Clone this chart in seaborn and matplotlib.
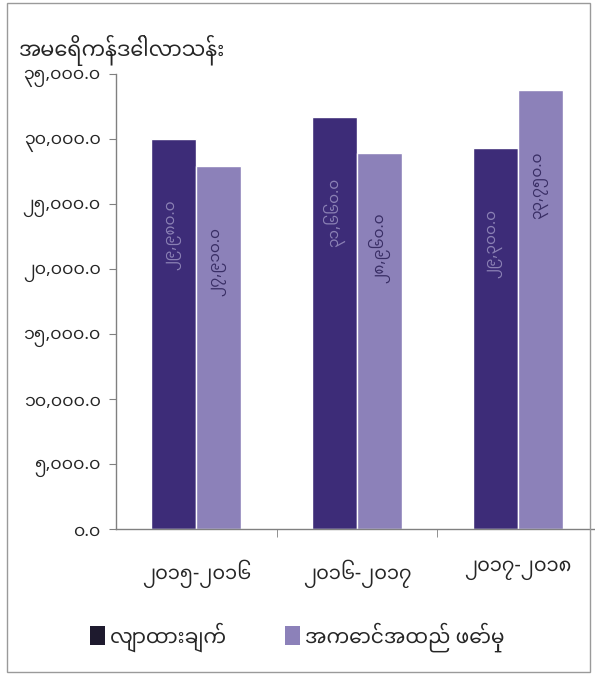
import numpy as np
import pandas as pd
import seaborn as sns
import matplotlib.pyplot as plt
from matplotlib import font_manager
from matplotlib.patches import Patch, Rectangle
from matplotlib.ticker import FuncFormatter, FixedLocator

# data (million US$)
years = ['၂၀၁၅-၂၀၁၆', '၂၀၁၆-၂၀၁၇', '၂၀၁၇-၂၀၁၈']
series = ['လျာထားချက်', 'အကောင်အထည် ဖော်မှု']
target = [29980.0, 31660.0, 29300.0]
actual = [27910.0, 28960.0, 33750.0]
unit_label = 'အမေရိကန်ဒေါ်လာသန်း'

colors = ['#3d2c78', '#8c81b9']
MM = str.maketrans('0123456789', '၀၁၂၃၄၅၆၇၈၉')

df = pd.DataFrame({
    'year': years * 2,
    'series': [series[0]] * 3 + [series[1]] * 3,
    'value': target + actual,
})

sns.set_style('white')

# a Myanmar font first, DejaVu for anything it lacks
installed = {f.name for f in font_manager.fontManager.ttflist}
mm = [n for n in ['Noto Sans Myanmar', 'Myanmar Sans Pro', 'Padauk'] if n in installed][:1]
plt.rcParams['font.family'] = mm + ['DejaVu Sans']

fig = plt.figure(figsize=(5.95, 6.75), dpi=100)
ax = fig.add_axes([0.195, 0.2163, 0.81, 0.674])

sns.barplot(data=df, x='year', y='value', hue='series', palette=colors,
            width=0.56, gap=0, saturation=1, ax=ax, legend=False)

ax.set_ylim(0, 35000)
ax.set_xlim(-0.5, 2.5)
ax.set_yticks(np.arange(0, 35001, 5000))
ax.yaxis.set_major_formatter(FuncFormatter(lambda v, p: f'{v:,.1f}'.translate(MM)))
ax.tick_params(axis='y', direction='out', length=5, color='#808080',
               labelsize=12.5, pad=6, left=True)
ax.tick_params(axis='x', length=0, labelsize=14, pad=22)
ax.xaxis.set_minor_locator(FixedLocator([0.5, 1.5]))
ax.tick_params(axis='x', which='minor', direction='out', length=6,
               color='#808080', bottom=True)
ax.set_xlabel('')
ax.set_ylabel('')
for s in ['top', 'right']:
    ax.spines[s].set_visible(False)
for s in ['left', 'bottom']:
    ax.spines[s].set_color('#808080')
    ax.spines[s].set_linewidth(1)

# value labels, rotated, inside the bars near the top
for cont, vals, tc in zip(ax.containers, [target, actual], ['#8a80b4', '#3a2f66']):
    for bar, v in zip(cont, vals):
        ax.text(bar.get_x() + bar.get_width() / 2, v - 7300,
                f'{v:,.1f}'.translate(MM), rotation=90, ha='center',
                va='center', fontsize=11, color=tc)

fig.text(0.03, 1 - 50 / 675, unit_label, fontsize=15, fontweight='bold',
         va='center', ha='left')

handles = [Patch(facecolor=c, edgecolor='none') for c in ['#1e1a2e', colors[1]]]
fig.legend(handles, series, loc='center left', bbox_to_anchor=(0.12, 1 - 637 / 675),
           ncol=2, frameon=False, fontsize=14.5, handlelength=0.75, handleheight=1.0,
           handletextpad=0.25, columnspacing=2.9)

fig.patches.append(Rectangle((0.012, 0.004), 0.98, 0.992, transform=fig.transFigure,
                             fill=False, edgecolor='#9a9a9a', linewidth=1))

fig.savefig('out.png', dpi=100)
